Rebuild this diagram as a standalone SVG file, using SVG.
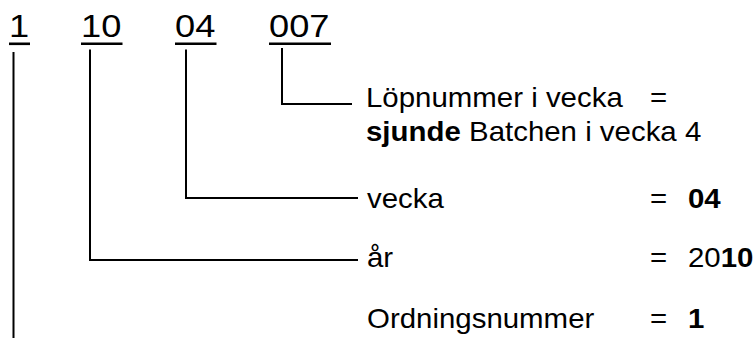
<svg xmlns="http://www.w3.org/2000/svg" width="755" height="338" viewBox="0 0 755 338">
<style>
.dg{font-family:"Liberation Sans",Arial,sans-serif;font-size:31px;fill:#000}
.lb{font-family:"Liberation Sans",Arial,sans-serif;font-size:27px;fill:#000}
.b{font-weight:bold}
.ul{stroke:#000;stroke-width:2.6;fill:none}
.cn{stroke:#000;stroke-width:2;fill:none}
</style>
<rect width="755" height="338" fill="#fff"/>
<g id="code-1">
<text class="dg" transform="translate(9,37.3) scale(1.17,1)">1</text>
<line class="ul" x1="9" y1="43.8" x2="30" y2="43.8"/>
</g>
<g id="code-10">
<text class="dg" transform="translate(81,37.3) scale(1.17,1)">10</text>
<line class="ul" x1="81" y1="43.8" x2="122.5" y2="43.8"/>
</g>
<g id="code-04">
<text class="dg" transform="translate(175,37.3) scale(1.17,1)">04</text>
<line class="ul" x1="175" y1="43.8" x2="216.5" y2="43.8"/>
</g>
<g id="code-007">
<text class="dg" transform="translate(269,37.3) scale(1.17,1)">007</text>
<line class="ul" x1="269" y1="43.8" x2="331" y2="43.8"/>
</g>
<g id="connectors">
<polyline class="cn" points="282,48 282,104 352,104"/>
<polyline class="cn" points="186,49.5 186,198 358,198"/>
<polyline class="cn" points="90,49.5 90,260 358,260"/>
<polyline class="cn" points="13.5,52 13.5,338"/>
</g>
<g id="label-lopnummer">
<text class="lb" transform="translate(366,106.5) scale(1.09,1)">Löpnummer i vecka</text>
<text class="lb" transform="translate(650,106.5) scale(1.09,1)">=</text>
<text class="lb" transform="translate(366,141) scale(1.09,1)"><tspan class="b">sjunde</tspan> Batchen i vecka 4</text>
</g>
<g id="label-vecka">
<text class="lb" transform="translate(367,208) scale(1.09,1)">vecka</text>
<text class="lb" transform="translate(650,208) scale(1.09,1)">=</text>
<text class="lb b" transform="translate(688,208) scale(1.09,1)">04</text>
</g>
<g id="label-ar">
<text class="lb" transform="translate(367,267) scale(1.09,1)">år</text>
<text class="lb" transform="translate(650,267) scale(1.09,1)">=</text>
<text class="lb" transform="translate(688,267) scale(1.09,1)">20<tspan class="b">10</tspan></text>
</g>
<g id="label-ordning">
<text class="lb" transform="translate(367,328) scale(1.09,1)">Ordningsnummer</text>
<text class="lb" transform="translate(650,328) scale(1.09,1)">=</text>
<text class="lb b" transform="translate(688,328) scale(1.09,1)">1</text>
</g>
</svg>
